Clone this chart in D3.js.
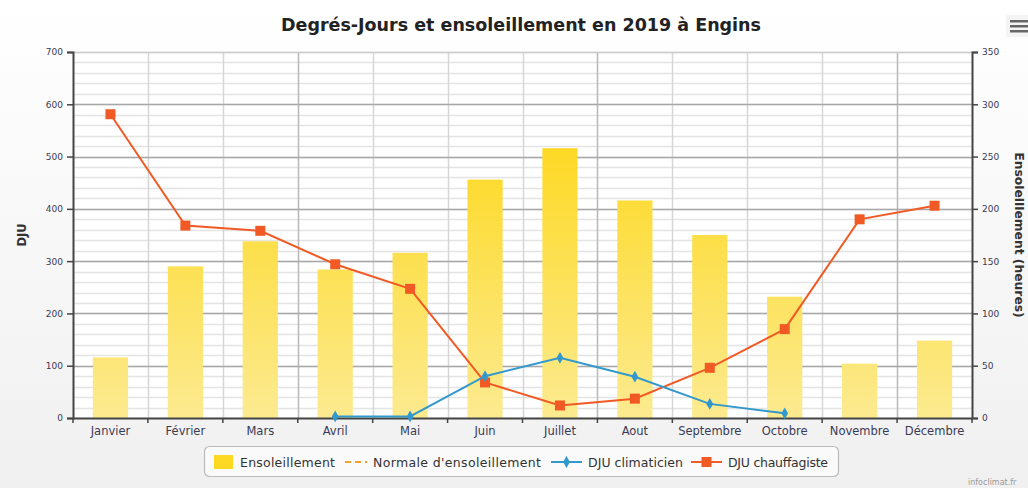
<!DOCTYPE html>
<html>
<head>
<meta charset="utf-8">
<script src="https://cdn.jsdelivr.net/npm/d3@7"></script>
<style>
  body { margin: 0; padding: 0; overflow: hidden; }
  svg text { font-family: "DejaVu Sans", Verdana, sans-serif; }
</style>
</head>
<body>
<div id="chart"></div>
<script>
var months = ["Janvier", "Février", "Mars", "Avril", "Mai", "Juin", "Juillet", "Aout", "Septembre", "Octobre", "Novembre", "Décembre"];
var ensoleillement = [58, 145, 169, 142, 158, 228, 258, 208, 175, 116, 52, 74];
var dju_chauffagiste = [581, 368, 358, 294, 247, 68, 24, 37, 96, 170, 380, 406];
var dju_climaticien = [null, null, null, 3, 3, 80, 115, 79, 27, 9, null, null];
var left_ticks = [0, 100, 200, 300, 400, 500, 600, 700];
var right_ticks = [0, 50, 100, 150, 200, 250, 300, 350];
var legend_labels = ["Ensoleillement", "Normale d'ensoleillement", "DJU climaticien", "DJU chauffagiste"];

var W = 1028, H = 488;
var plot_l = 73, plot_r = 972, plot_t = 52, plot_b = 418;

var x_ax = d3.scaleBand().domain(months).range([plot_l, plot_r]);
var yl = d3.scaleLinear().domain([0, 700]).range([plot_b, plot_t]);
var yr = d3.scaleLinear().domain([0, 350]).range([plot_b, plot_t]);
var bar_w = x_ax.step() * 0.47;

var svg = d3.select("#chart").append("svg")
  .attr("width", W)
  .attr("height", H);

var defs = svg.append("defs");
var bg = defs.append("linearGradient").attr("id", "bg").attr("x1", 0).attr("y1", 0).attr("x2", 0).attr("y2", 1);
bg.append("stop").attr("offset", "0%").attr("stop-color", "#ffffff");
bg.append("stop").attr("offset", "100%").attr("stop-color", "#f0f0f0");
var bar_grad = defs.append("linearGradient").attr("id", "bargrad")
  .attr("gradientUnits", "userSpaceOnUse")
  .attr("x1", 0).attr("y1", yr(260)).attr("x2", 0).attr("y2", plot_b);
bar_grad.append("stop").attr("offset", "0%").attr("stop-color", "#fdd924");
bar_grad.append("stop").attr("offset", "100%").attr("stop-color", "#fcea90");

svg.append("rect").attr("width", W).attr("height", H).attr("fill", "url(#bg)");
svg.append("rect").attr("x", 0).attr("y", 0).attr("width", W).attr("height", 8).attr("fill", "#ffffff");

// plot area
svg.append("rect")
  .attr("x", plot_l).attr("y", plot_t)
  .attr("width", plot_r - plot_l).attr("height", plot_b - plot_t)
  .attr("fill", "#ffffff");

// minor horizontal grid
svg.append("g").selectAll("line")
  .data(d3.range(0, 701, 20))
  .enter().append("line")
    .attr("x1", plot_l).attr("x2", plot_r)
    .attr("y1", function(d) { return Math.round(yl(d)) + 0.5; })
    .attr("y2", function(d) { return Math.round(yl(d)) + 0.5; })
    .attr("stroke", "#e4e4e4")
    .attr("stroke-width", 1.5);

// vertical grid at category boundaries
svg.append("g").selectAll("line")
  .data(months.slice(1))
  .enter().append("line")
    .attr("x1", function(d) { return Math.round(x_ax(d)) + 0.5; })
    .attr("x2", function(d) { return Math.round(x_ax(d)) + 0.5; })
    .attr("y1", plot_t).attr("y2", plot_b)
    .attr("stroke", function(d, i) { return (i % 4 == 2) ? "#b8b8b8" : "#d6d6d6"; })
    .attr("stroke-width", 1.5);

// major horizontal grid
svg.append("g").selectAll("line")
  .data(left_ticks.slice(1))
  .enter().append("line")
    .attr("x1", plot_l).attr("x2", plot_r)
    .attr("y1", function(d) { return Math.round(yl(d)) + 0.5; })
    .attr("y2", function(d) { return Math.round(yl(d)) + 0.5; })
    .attr("stroke", function(d) { return d == 700 ? "#cccccc" : "#a8a8a8"; })
    .attr("stroke-width", 1.5);

// bars
svg.append("g").selectAll("rect")
  .data(ensoleillement)
  .enter().append("rect")
    .attr("x", function(d, i) { return x_ax(months[i]) + (x_ax.step() - bar_w) / 2; })
    .attr("y", function(d) { return yr(d); })
    .attr("width", bar_w)
    .attr("height", function(d) { return plot_b - yr(d); })
    .attr("fill", "url(#bargrad)");

// axes
var left_axis = svg.append("g")
  .attr("transform", "translate(" + plot_l + ",0)")
  .call(d3.axisLeft(yl).tickValues(left_ticks).tickSize(6).tickPadding(4));
var right_axis = svg.append("g")
  .attr("transform", "translate(" + plot_r + ",0)")
  .call(d3.axisRight(yr).tickValues(right_ticks).tickSize(6).tickPadding(4));
var bottom_axis = svg.append("g")
  .attr("transform", "translate(0," + plot_b + ")")
  .call(d3.axisBottom(x_ax).tickSize(0).tickPadding(9));

[left_axis, right_axis, bottom_axis].forEach(function(a) {
  a.select(".domain").attr("stroke", "#444").attr("stroke-width", 2);
  a.selectAll(".tick line").attr("stroke", "#444").attr("stroke-width", 1.5);
  a.selectAll(".tick text").attr("fill", "#3a3a55");
});
bottom_axis.selectAll(".tick text").style("font-size", "11.5px");
left_axis.selectAll(".tick text").style("font-size", "9px");
right_axis.selectAll(".tick text").style("font-size", "9px");

// ticks on the category boundaries
svg.append("g").selectAll("line")
  .data(months.concat(["end"]))
  .enter().append("line")
    .attr("x1", function(d, i) { return plot_l + i * x_ax.step(); })
    .attr("x2", function(d, i) { return plot_l + i * x_ax.step(); })
    .attr("y1", plot_b).attr("y2", plot_b + 5)
    .attr("stroke", "#444")
    .attr("stroke-width", 1.5);

// lines
var cx = function(i) { return x_ax(months[i]) + x_ax.step() / 2; };

var heat_line = d3.line()
  .x(function(d, i) { return cx(i); })
  .y(function(d) { return yl(d); });
svg.append("path")
  .attr("d", heat_line(dju_chauffagiste))
  .attr("fill", "none")
  .attr("stroke", "#f15a24")
  .attr("stroke-width", 2);
svg.append("g").selectAll("rect")
  .data(dju_chauffagiste)
  .enter().append("rect")
    .attr("x", function(d, i) { return cx(i) - 5; })
    .attr("y", function(d) { return yl(d) - 5; })
    .attr("width", 10).attr("height", 10)
    .attr("fill", "#f15a24");

var cool_line = d3.line()
  .defined(function(d) { return d != null; })
  .x(function(d, i) { return cx(i); })
  .y(function(d) { return yl(d); });
svg.append("path")
  .attr("d", cool_line(dju_climaticien))
  .attr("fill", "none")
  .attr("stroke", "#3399cc")
  .attr("stroke-width", 2);
svg.append("g").selectAll("path")
  .data(dju_climaticien.map(function(d, i) { return {v: d, i: i}; }).filter(function(d) { return d.v != null; }))
  .enter().append("path")
    .attr("d", d3.symbol().type(d3.symbolDiamond).size(40))
    .attr("transform", function(d) { return "translate(" + cx(d.i) + "," + yl(d.v) + ")"; })
    .attr("fill", "#3399cc");

// titles
svg.append("text")
  .attr("x", 521).attr("y", 31)
  .attr("text-anchor", "middle")
  .attr("fill", "#222")
  .style("font-size", "17.5px")
  .style("font-weight", "bold")
  .text("Degrés-Jours et ensoleillement en 2019 à Engins");

svg.append("text")
  .attr("transform", "translate(26," + ((plot_t + plot_b) / 2) + ") rotate(-90)")
  .attr("text-anchor", "middle")
  .attr("fill", "#333")
  .style("font-size", "11.5px")
  .style("font-weight", "bold")
  .text("DJU");

svg.append("text")
  .attr("transform", "translate(1015," + ((plot_t + plot_b) / 2) + ") rotate(90)")
  .attr("text-anchor", "middle")
  .attr("fill", "#333")
  .style("font-size", "12.3px")
  .style("font-weight", "bold")
  .text("Ensoleillement (heures)");

// legend
var legend = svg.append("g");
legend.append("rect")
  .attr("x", 204.5).attr("y", 446.5)
  .attr("width", 634).attr("height", 30)
  .attr("rx", 5)
  .attr("fill", "#fafafa")
  .attr("stroke", "#bbbbbb")
  .attr("stroke-width", 1.2);
var leg_y = 462;
legend.append("rect").attr("x", 214).attr("y", leg_y - 7).attr("width", 19).attr("height", 14).attr("fill", "#fdd924");
legend.append("line").attr("x1", 345).attr("x2", 367).attr("y1", leg_y).attr("y2", leg_y)
  .attr("stroke", "#f7a12a").attr("stroke-width", 2).attr("stroke-dasharray", "6,4");
legend.append("line").attr("x1", 551).attr("x2", 582).attr("y1", leg_y).attr("y2", leg_y)
  .attr("stroke", "#3399cc").attr("stroke-width", 2);
legend.append("path").attr("d", d3.symbol().type(d3.symbolDiamond).size(40))
  .attr("transform", "translate(566.5," + leg_y + ")").attr("fill", "#3399cc");
legend.append("line").attr("x1", 691).attr("x2", 722).attr("y1", leg_y).attr("y2", leg_y)
  .attr("stroke", "#f15a24").attr("stroke-width", 2);
legend.append("rect").attr("x", 701.5).attr("y", leg_y - 5).attr("width", 10).attr("height", 10).attr("fill", "#f15a24");
var leg_x = [240, 373, 588, 728];
legend.selectAll(".leg_text")
  .data(legend_labels)
  .enter().append("text")
    .attr("class", "leg_text")
    .attr("x", function(d, i) { return leg_x[i]; })
    .attr("y", leg_y + 4.5)
    .attr("fill", "#333")
    .attr("textLength", function(d, i) { return [95, 168, 95, 100][i]; })
    .style("font-size", "12.5px")
    .text(function(d) { return d; });

// menu button
var menu = svg.append("g");
menu.append("rect").attr("x", 1006).attr("y", 15).attr("width", 24).attr("height", 22).attr("rx", 2).attr("fill", "#f4f4f4");
[20, 25, 30].forEach(function(yy) {
  menu.append("rect").attr("x", 1010).attr("y", yy).attr("width", 18).attr("height", 2.5).attr("fill", "#666");
});

svg.append("text")
  .attr("x", 968).attr("y", 485)
  .attr("fill", "#999")
  .style("font-size", "8px")
  .text("infoclimat.fr");
</script>
</body>
</html>
